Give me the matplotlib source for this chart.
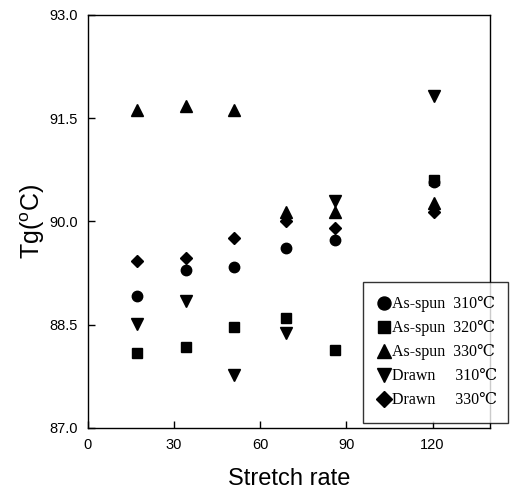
import matplotlib.pyplot as plt
from matplotlib.ticker import FormatStrFormatter

# ── data ─────────────────────────────────────────────
stretch = [17, 34, 51, 69, 86, 120.5]

as_spun_310 = [88.92, 89.30, 89.34, 89.61, 89.73, 90.57]
as_spun_320 = [88.09, 88.17, 88.47, 88.59, 88.13, 90.60]
as_spun_330 = [91.62, 91.67, 91.62, 90.14, 90.14, 90.26]
drawn_310 = [88.51, 88.84, 87.77, 88.38, 90.29, 91.82]
drawn_330 = [89.43, 89.47, 89.76, 90.01, 89.90, 90.14]

labels = ["As-spun  310\u2103", "As-spun  320\u2103", "As-spun  330\u2103",
          "Drawn     310\u2103", "Drawn     330\u2103"]
series = [as_spun_310, as_spun_320, as_spun_330, drawn_310, drawn_330]
markers = ["o", "s", "^", "v", "D"]
sizes = [7.5, 7, 8, 8, 6.5]

x_ticks = [0, 30, 60, 90, 120]
y_ticks = [87.0, 88.5, 90.0, 91.5, 93.0]

plt.rcParams['font.family'] = ['Liberation Sans', 'DejaVu Sans']

fig = plt.figure(figsize=(5.11, 4.98), dpi=100)
ax = fig.add_axes([0.172, 0.141, 0.787, 0.829])

handles = []
for ys, m, ms, lab in zip(series, markers, sizes, labels):
    h, = ax.plot(stretch, ys, linestyle="none", marker=m, markersize=ms,
                 color="black", label=lab)
    handles.append(h)

ax.set_xlim(0, 140)
ax.set_ylim(87.0, 93.0)
ax.set_xticks(x_ticks)
ax.set_yticks(y_ticks)
ax.yaxis.set_major_formatter(FormatStrFormatter("%.1f"))
ax.tick_params(direction="in", length=5, width=1, labelsize=10.5, pad=7)
for s in ax.spines.values():
    s.set_linewidth(1)

ax.set_xlabel("Stretch rate", fontsize=17, labelpad=12)
ax.set_ylabel("Tg($^{\\mathregular{o}}$C)", fontsize=18, labelpad=2)

leg = fig.legend(handles=handles, loc="lower left",
                 bbox_to_anchor=(0.710, 0.151, 0.285, 0.279), mode="expand",
                 frameon=True, fancybox=False, edgecolor="black",
                 markerscale=1.25, handlelength=0.8, handletextpad=0.15,
                 labelspacing=0.5, borderpad=0.9, borderaxespad=0,
                 prop={'family': ['Liberation Serif', 'DejaVu Serif'], 'size': 11.5})
leg.get_frame().set_linewidth(1)

fig.savefig("out.png", dpi=100)
